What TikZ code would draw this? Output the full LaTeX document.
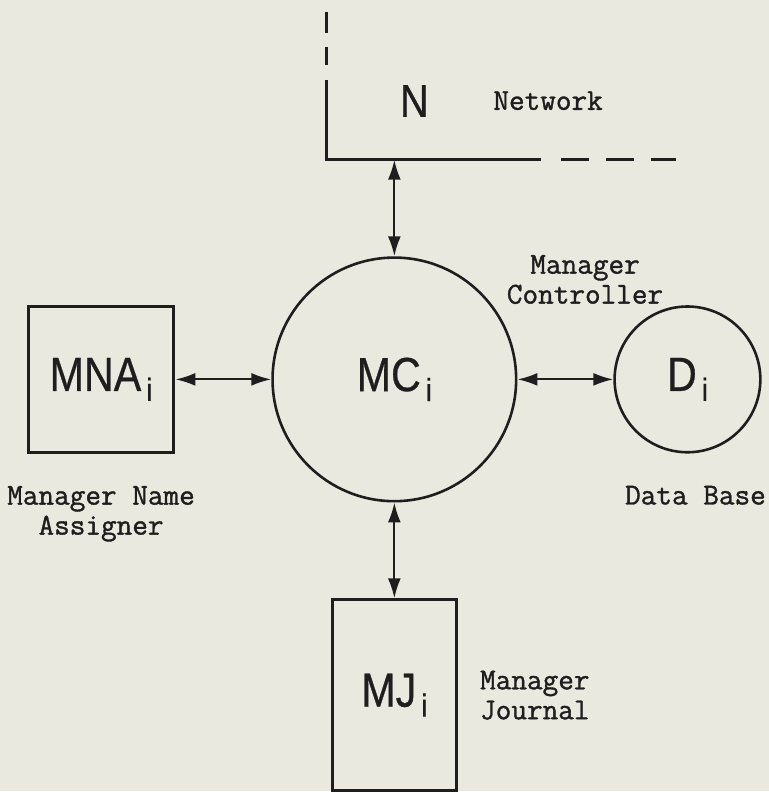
\documentclass[tikz,border=0pt]{standalone}
\usepackage{fontspec}
\newfontfamily\unitfont[FakeStretch=0.86, FakeBold=0.6]{Liberation Sans}
\setmonofont[FakeBold=1.2]{Latin Modern Mono}
\usetikzlibrary{arrows.meta, positioning}

\definecolor{paper}{RGB}{233,233,224}
\definecolor{ink}{RGB}{30,30,30}

% lowered index letter after a unit name
\newcommand{\idx}{\kern2.5pt\raisebox{-5pt}{\fontsize{16}{16}\selectfont i}}

\begin{document}
\begin{tikzpicture}[
    x=0.5pt, y=-0.5pt,
    unit/.style={
        draw=ink,
        text=ink,
        line width=1.3pt,
        font=\unitfont\fontsize{24}{24}\selectfont
    },
    box/.style={unit, rectangle, line width=1.5pt},
    store/.style={unit, circle},
    tag/.style={text=ink, font=\unitfont\fontsize{23}{23}\selectfont},
    caption/.style={
        text=ink,
        align=center,
        inner sep=0pt,
        font=\ttfamily\fontsize{15.2}{15}\selectfont
    },
    net/.style={draw=ink, line width=1.4pt},
    arrow/.style={{Latex[length=10pt,width=6.5pt]}-{Latex[length=10pt,width=6.5pt]}, draw=ink, line width=1.1pt},
    node distance=48pt
]

% paper
\fill[paper] (0,0) rectangle (770,792);

% ------------------------
% Manager controller
% ------------------------
\node[store, minimum size=122pt] (mc) at (395,380) {MC\idx};

% ------------------------
% Name assigner, data base, journal
% ------------------------
\node[box, minimum width=73pt, minimum height=73pt, left=of mc] (mna) {MNA\idx};
\node[store, minimum size=73pt, right=of mc] (db) {D\idx};
\node[box, minimum width=62pt, minimum height=95.5pt, below=of mc] (mj) {MJ\idx};

% ------------------------
% Network bus
% ------------------------
\draw[net] (327,12) -- (327,33) (327,47) -- (327,65);
\draw[net] (327,80) -- (327,160) -- (542,160);
\draw[net, dash pattern=on 14pt off 8.5pt] (562,160) -- (677,160);
\coordinate (bus) at (395,160);
\node[tag, anchor=base, inner sep=0pt] (net) at (415,117) {N};

% ------------------------
% Captions
% ------------------------
\node[caption, anchor=base] (netlbl) at (549,110) {Network};
\node[caption] (mclbl) at (586,280) {Manager\\Controller};
\node[caption, below=16pt of mna] (mnalbl) {Manager Name\\Assigner};
\node[caption, below=16pt of db, xshift=4pt] (dblbl) {Data Base};
\node[caption, right=11pt of mj] (mjlbl) {Manager\\Journal};

% ------------------------
% Arrows
% ------------------------
\draw[arrow] (bus) -- (mc);
\draw[arrow] (mna) -- (mc);
\draw[arrow] (mc) -- (db);
\draw[arrow] (mc) -- (mj);

\end{tikzpicture}
\end{document}
